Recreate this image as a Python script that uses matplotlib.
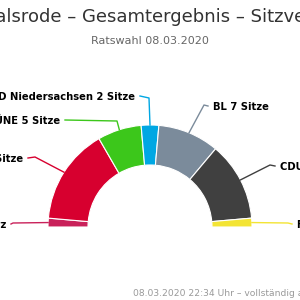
import matplotlib
matplotlib.use('Agg')
import matplotlib.pyplot as plt
import numpy as np

# Sitzverteilung (von links nach rechts)
parteien = ['DIE LINKE', 'SPD', 'GRÜNE', 'AfD Niedersachsen', 'BL', 'CDU', 'FDP']
sitze = [1, 11, 5, 2, 7, 9, 1]
farben = ['#c9215a', '#d7002f', '#3cc71b', '#00a7e3', '#7b8b9b', '#404040', '#f3e434']

titel = 'Stadt Walsrode – Gesamtergebnis – Sitzverteilung'
untertitel = 'Ratswahl 08.03.2020'
fusszeile = '08.03.2020 22:34 Uhr – vollständig ausgezählt'

# Layout (Pixel-Koordinaten, y nach unten)
cx, cy = 150, 227
r_aussen, breite = 102, 40
# Label-Anker und Knickpunkte der Verbindungslinien
label_pos = [(6, 225, 'right'), (23, 159, 'right'), (60, 121, 'right'),
             (135, 97, 'right'), (213, 107, 'left'), (280, 167, 'left'),
             (297, 225, 'left')]
knick = [(13, 223), (35, 157), (117, 121), (149, 98), (204, 105),
         (270, 165), (288, 223)]

fig = plt.figure(figsize=(3, 3), dpi=100)
ax = fig.add_axes([0, 0, 1, 1])

gesamt = sum(sitze)
werte = sitze + [gesamt]
wedges, _ = ax.pie(werte, colors=farben + ['none'], startangle=180,
                   counterclock=True, radius=r_aussen, center=(cx, cy),
                   wedgeprops=dict(width=breite, edgecolor='white', linewidth=0.8))
wedges[-1].set_visible(False)

ax.set_xlim(0, 300)
ax.set_ylim(300, 0)
ax.set_aspect('auto')
ax.axis('off')

grad = 180 / gesamt
kum = 0
for i, (p, s) in enumerate(zip(parteien, sitze)):
    mitte = 180 - grad * (kum + s / 2)
    kum += s
    a = np.deg2rad(mitte)
    px, py = cx + r_aussen * np.cos(a), cy - r_aussen * np.sin(a)
    lx, ly, ha = label_pos[i]
    kx, ky = knick[i]
    endx = lx + 5 if ha == 'right' else lx - 5
    ax.plot([px, kx, endx], [py, ky, ly - 1], color=farben[i], lw=1)
    txt = f'{p} {s} Sitz' if s == 1 else f'{p} {s} Sitze'
    ax.text(lx, ly, txt, ha=ha, va='center', fontsize=7.2, fontweight='bold',
            color='#000000')

ax.text(150, 17, titel, ha='center', va='center', fontsize=13, color='#333333')
ax.text(150, 41, untertitel, ha='center', va='center', fontsize=8, color='#666666')
ax.text(133, 293, fusszeile, ha='left', va='center', fontsize=6.6, color='#999999')

fig.savefig('out.png', dpi=100)
